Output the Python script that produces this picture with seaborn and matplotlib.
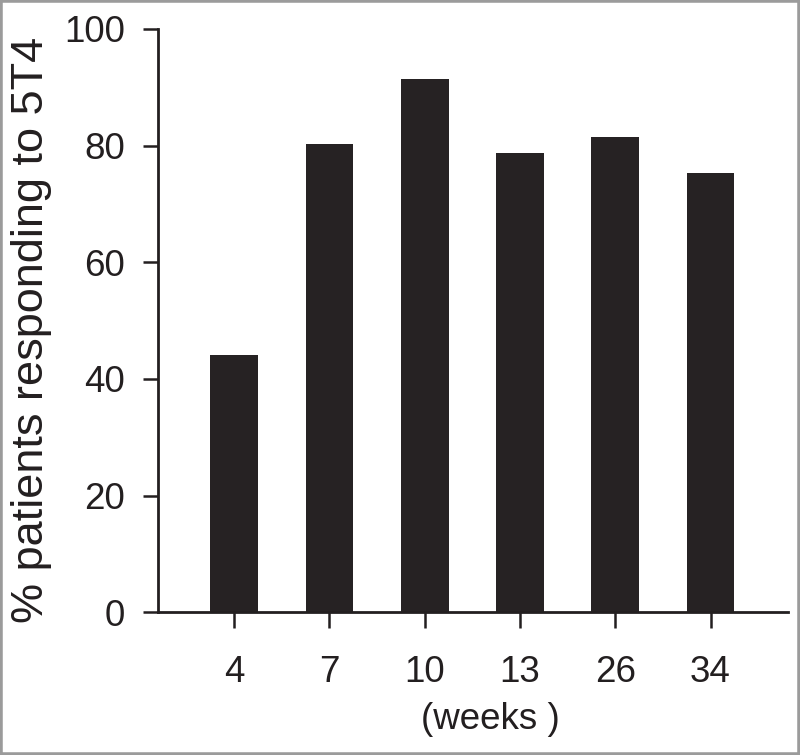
import matplotlib
matplotlib.use("Agg")
import matplotlib.pyplot as plt
import seaborn as sns
import pandas as pd
from matplotlib.patches import Rectangle

weeks = ["4", "7", "10", "13", "26", "34"]
percent_responding = [44.1, 80.2, 91.5, 78.7, 81.5, 75.3]
y_ticks = [0, 20, 40, 60, 80, 100]

sns.set_style("ticks")
plt.rcParams["font.family"] = ["Liberation Sans", "DejaVu Sans"]

df = pd.DataFrame({"week": weeks, "pct": percent_responding})

fig = plt.figure(figsize=(8.0, 7.55), dpi=100)
fig.patch.set_facecolor("white")
ax = fig.add_axes([0.1975, 0.189, 0.7871, 0.7726])

ink = "#231f20"
sns.barplot(data=df, x="week", y="pct", order=weeks, color="#262223",
            width=0.5, saturation=1, edgecolor="#262223", linewidth=0, ax=ax)

ax.set_ylim(0, 100)
ax.set_xlim(-0.8, 5.81)
ax.set_yticks(y_ticks)
ax.set_yticklabels([str(v) for v in y_ticks])

for side in ["top", "right"]:
    ax.spines[side].set_visible(False)
for side in ["left", "bottom"]:
    ax.spines[side].set_linewidth(2.0)
    ax.spines[side].set_color(ink)

ax.tick_params(axis="y", length=11, width=1.8, color=ink, labelsize=26.5,
               labelcolor=ink, pad=13)
ax.tick_params(axis="x", length=11.5, width=1.8, color=ink, labelsize=26.5,
               labelcolor=ink, pad=19)

ax.set_ylabel("% patients responding to 5T4", fontsize=32.5, color=ink)
ax.yaxis.set_label_coords(-0.168, 0.484)
ax.set_xlabel("(weeks )", fontsize=26.5, color=ink)
ax.xaxis.set_label_coords(0.528, -0.183)
ax.xaxis.label.set_verticalalignment("center")

fig.patches.append(Rectangle((0, 0), 1, 1, transform=fig.transFigure,
                             fill=False, edgecolor="#9b9b9b", linewidth=4.0,
                             zorder=10))

fig.savefig("out.png", dpi=100, facecolor="white")
